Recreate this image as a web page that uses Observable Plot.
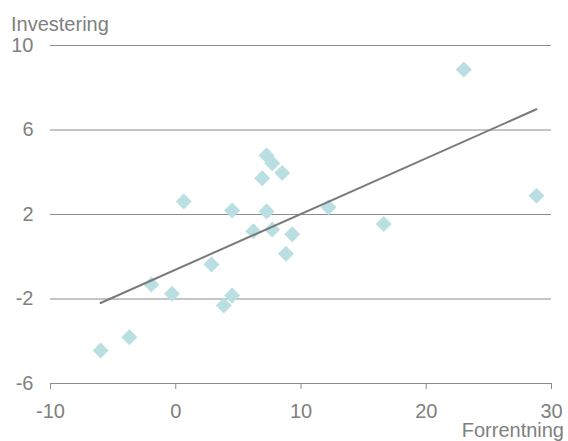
<!DOCTYPE html>
<html>
<head>
<meta charset="utf-8">
<script src="https://cdn.jsdelivr.net/npm/d3@7"></script>
<script src="https://cdn.jsdelivr.net/npm/@observablehq/plot@0.6"></script>
<style>
  html, body { margin: 0; padding: 0; background: #fff; }
  #chart { width: 568px; height: 441px; }
</style>
</head>
<body>
<div id="chart"></div>
<script>
// Forrentning (x) and Investering (y)
const forrentning = [-6.0, -3.7, -1.95, -0.3, 0.64, 2.85, 3.84, 4.5, 4.5, 6.2, 6.9, 7.25, 7.25, 7.7, 7.7, 8.5, 8.8, 9.3, 12.2, 16.6, 23.0, 28.8];
const investering = [-4.44, -3.81, -1.31, -1.75, 2.62, -0.37, -2.31, -1.83, 2.19, 1.21, 3.72, 4.79, 2.14, 4.43, 1.29, 3.96, 0.14, 1.07, 2.34, 1.55, 8.86, 2.89];
const xTicks = [-10, 0, 10, 20, 30];
const yTicks = [-6, -2, 2, 6, 10];
const gridValues = [-2, 2, 6, 10];
const baseValue = [-6];
const yLabel = "Investering";
const xLabel = "Forrentning";

const data = forrentning.map((x, i) => ({x, y: investering[i]}));
const grey = "#808080";
const fmt = d => String(d);

const chart = Plot.plot({
  width: 568,
  height: 441,
  marginLeft: 50,
  marginRight: 17,
  marginTop: 45,
  marginBottom: 58,
  style: {fontFamily: "'Liberation Sans', Arial, sans-serif", fontSize: "20px", color: grey, background: "#fff", overflow: "visible"},
  x: {domain: [-10, 30]},
  y: {domain: [-6, 10]},
  marks: [
    Plot.ruleY(gridValues, {stroke: "#8c8c8c", strokeWidth: 1.2}),
    Plot.ruleY(baseValue, {stroke: "#8c8c8c", strokeWidth: 1.2}),
    Plot.axisY({ticks: yTicks, tickSize: 0, tickPadding: 17, tickFormat: fmt, label: null, color: grey}),
    Plot.axisX({ticks: xTicks, tickSize: 6, tickPadding: 14, tickFormat: fmt, label: null, color: "#8c8c8c"}),
    Plot.dot(data, {x: "x", y: "y", symbol: "diamond2", r: 7.2, fill: "#b9dfe2", stroke: "none"}),
    Plot.linearRegressionY(data, {x: "x", y: "y", ci: 0, stroke: "#7a7a7a", strokeWidth: 2})
  ]
});

d3.select(chart).selectAll("g[aria-label='x-axis tick label']").attr("fill", grey);

const svg = d3.select(chart);
svg.append("text").attr("x", 11).attr("y", 31).attr("fill", grey)
  .attr("font-size", 20).attr("text-anchor", "start").text(yLabel);
svg.append("text").attr("x", 564).attr("y", 437).attr("fill", grey)
  .attr("font-size", 20).attr("text-anchor", "end").text(xLabel);

document.getElementById("chart").appendChild(chart);
</script>
</body>
</html>
